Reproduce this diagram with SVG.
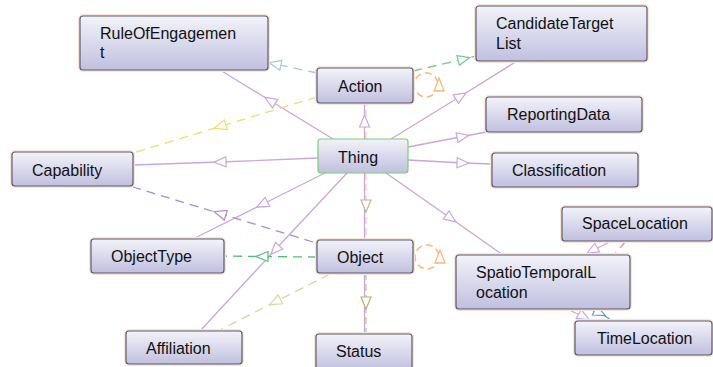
<svg xmlns="http://www.w3.org/2000/svg" width="713" height="367" viewBox="0 0 713 367">
<style>
.box{fill:url(#g);stroke:#5a5c6c;stroke-width:1.2}
.halo{fill:none;stroke:#fbe4d8;stroke-width:4}
.lbl{font-family:"Liberation Sans",Arial,sans-serif;font-size:16px;fill:#111}
.sub{fill:none;stroke:#c9a6e0;stroke-width:1.3;marker-mid:url(#mp)}
.d{fill:none;stroke-width:1.3;stroke-dasharray:9 6}
</style>
<defs>
<linearGradient id="g" x1="0" y1="0" x2="0" y2="1">
<stop offset="0" stop-color="#f3f3fa"/>
<stop offset="1" stop-color="#c0c0e0"/>
</linearGradient>
<marker id="mp" viewBox="0 0 14 12" refX="7" refY="6" markerWidth="14" markerHeight="12" markerUnits="userSpaceOnUse" orient="auto"><path d="M1,1 L13,6 L1,11 Z" fill="#fff" stroke="#c9a6e0" stroke-width="1.2"/></marker>
<marker id="mb" viewBox="0 0 14 12" refX="7" refY="6" markerWidth="14" markerHeight="12" markerUnits="userSpaceOnUse" orient="auto"><path d="M1,1 L13,6 L1,11 Z" fill="#fff" stroke="#a8c6d6" stroke-width="1.2"/></marker>
<marker id="my" viewBox="0 0 14 12" refX="7" refY="6" markerWidth="14" markerHeight="12" markerUnits="userSpaceOnUse" orient="auto"><path d="M1,1 L13,6 L1,11 Z" fill="#fff" stroke="#f3dc6a" stroke-width="1.2"/></marker>
<marker id="mg" viewBox="0 0 14 12" refX="7" refY="6" markerWidth="14" markerHeight="12" markerUnits="userSpaceOnUse" orient="auto"><path d="M1,1 L13,6 L1,11 Z" fill="#fff" stroke="#72cc88" stroke-width="1.2"/></marker>
<marker id="mg2" viewBox="0 0 14 12" refX="7" refY="6" markerWidth="14" markerHeight="12" markerUnits="userSpaceOnUse" orient="auto"><path d="M1,1 L13,6 L1,11 Z" fill="#fff" stroke="#4fbf7a" stroke-width="1.2"/></marker>
<marker id="mdp" viewBox="0 0 14 12" refX="7" refY="6" markerWidth="14" markerHeight="12" markerUnits="userSpaceOnUse" orient="auto"><path d="M1,1 L13,6 L1,11 Z" fill="#fff" stroke="#a88ae0" stroke-width="1.2"/></marker>
<marker id="mk" viewBox="0 0 14 12" refX="7" refY="6" markerWidth="14" markerHeight="12" markerUnits="userSpaceOnUse" orient="auto"><path d="M1,1 L13,6 L1,11 Z" fill="#fff" stroke="#d8d89c" stroke-width="1.2"/></marker>
<marker id="mo" viewBox="0 0 14 12" refX="7" refY="6" markerWidth="14" markerHeight="12" markerUnits="userSpaceOnUse" orient="auto"><path d="M1,1 L13,6 L1,11 Z" fill="#fff" stroke="#b9b26e" stroke-width="1.2"/></marker>
<marker id="mo2" viewBox="0 0 14 12" refX="7" refY="6" markerWidth="14" markerHeight="12" markerUnits="userSpaceOnUse" orient="auto"><path d="M1,1 L13,6 L1,11 Z" fill="#fff" stroke="#c2b88e" stroke-width="1.2"/></marker>
<marker id="mbl" viewBox="0 0 14 12" refX="7" refY="6" markerWidth="14" markerHeight="12" markerUnits="userSpaceOnUse" orient="auto"><path d="M1,1 L13,6 L1,11 Z" fill="#fff" stroke="#6a94e0" stroke-width="1.2"/></marker>
</defs>
<rect width="713" height="367" fill="#fff"/>
<g id="connectors">
<path class="sub" d="M333,139 L270,100.5 L220,70"/>
<path class="d" stroke="#a8c6d6" marker-mid="url(#mb)" d="M317,73 L275,64 L268,62.5"/>
<path class="d" stroke="#f3dc6a" marker-mid="url(#my)" d="M317,97 L220,126.5 L133,153"/>
<path class="sub" d="M318,158 L220,162 L133,165"/>
<path d="M366,139 L366,103" fill="none" stroke="#f5c09a" stroke-width="1" stroke-dasharray="7 4"/>
<path class="sub" d="M364.5,139 L364.5,121 L364.5,103"/>
<path class="d" stroke="#72cc88" marker-mid="url(#mg)" d="M413,71 L464,59 L476,56"/>
<path class="sub" d="M391,139 L461,96 L517,61"/>
<path class="sub" d="M408,147 L463,136.5 L486,132"/>
<path class="sub" d="M408,160 L463,163 L492,164"/>
<path class="sub" d="M386,173 L451,218.5 L503,255"/>
<path d="M364.5,173 L364.5,240" fill="none" stroke="#c9a6e0" stroke-width="1.3"/>
<path d="M366,173 L366,206 L366,240" fill="none" stroke="#f5c09a" stroke-width="1" stroke-dasharray="7 4" marker-mid="url(#mo2)"/>
<path class="sub" d="M325,173 L262,204.5 L193,239"/>
<path class="sub" d="M347,173 L275,250 L200,331"/>
<path class="d" stroke="#a88ae0" marker-mid="url(#mdp)" d="M313,242 L220,213.5 L133,187"/>
<path class="d" stroke="#4fbf7a" marker-mid="url(#mg2)" d="M317,257 L262,256.5 L224,256"/>
<path class="d" stroke="#d8d89c" marker-mid="url(#mk)" d="M330,274 L275,302 L218,331"/>
<path d="M364.5,273 L364.5,334" fill="none" stroke="#c9a6e0" stroke-width="1.3"/>
<path d="M366,273 L366,303 L366,334" fill="none" stroke="#c8c07a" stroke-width="1.2" stroke-dasharray="7 4" marker-mid="url(#mo)"/>
<circle cx="426" cy="85" r="12" fill="none" stroke="#f8b878" stroke-width="1.5" stroke-dasharray="7 4"/>
<path d="M439,78 L444,91 L434,91 Z" fill="#fff" stroke="#f8b878" stroke-width="1.3"/>
<circle cx="427" cy="257" r="12" fill="none" stroke="#f8b878" stroke-width="1.5" stroke-dasharray="7 4"/>
<path d="M440,250 L445,263 L435,263 Z" fill="#fff" stroke="#f8b878" stroke-width="1.3"/>
<path class="sub" d="M612,241 L592,250.5 L585,255"/>
<path class="d" stroke="#f08898" stroke-dasharray="5 3" d="M626,241 L614,255"/>
<path class="sub" d="M567,309 L584,317 L590,321"/>
<path class="d" stroke="#6a94e0" stroke-dasharray="5 3" marker-mid="url(#mbl)" d="M588,309 L600,313 L613,321"/>
</g>
<g id="RuleOfEngagement"><rect class="halo" x="80" y="16" width="188" height="54" rx="3"/><rect class="box" x="80" y="16" width="188" height="54" rx="3"/><text class="lbl" x="100" y="39">RuleOfEngagemen</text><text class="lbl" x="100" y="58">t</text></g>
<g id="CandidateTargetList"><rect class="halo" x="476" y="6" width="171" height="55" rx="3"/><rect class="box" x="476" y="6" width="171" height="55" rx="3"/><text class="lbl" x="496" y="29">CandidateTarget</text><text class="lbl" x="496" y="49">List</text></g>
<g id="Action"><rect class="halo" x="317" y="68" width="96" height="35" rx="3"/><rect class="box" x="317" y="68" width="96" height="35" rx="3"/><text class="lbl" x="338" y="92">Action</text></g>
<g id="ReportingData"><rect class="halo" x="486" y="97" width="156" height="35" rx="3"/><rect class="box" x="486" y="97" width="156" height="35" rx="3"/><text class="lbl" x="507" y="120">ReportingData</text></g>
<g id="Thing"><rect class="box" x="318" y="139" width="90" height="34" rx="3" style="stroke:#7ccf6e"/><text class="lbl" x="338" y="163">Thing</text></g>
<g id="Capability"><rect class="halo" x="12" y="152" width="121" height="34" rx="3"/><rect class="box" x="12" y="152" width="121" height="34" rx="3"/><text class="lbl" x="32" y="176">Capability</text></g>
<g id="Classification"><rect class="halo" x="492" y="153" width="146" height="34" rx="3"/><rect class="box" x="492" y="153" width="146" height="34" rx="3"/><text class="lbl" x="512" y="176">Classification</text></g>
<g id="SpaceLocation"><rect class="halo" x="562" y="207" width="150" height="34" rx="3"/><rect class="box" x="562" y="207" width="150" height="34" rx="3"/><text class="lbl" x="582" y="229">SpaceLocation</text></g>
<g id="ObjectType"><rect class="halo" x="91" y="239" width="133" height="34" rx="3"/><rect class="box" x="91" y="239" width="133" height="34" rx="3"/><text class="lbl" x="111" y="262">ObjectType</text></g>
<g id="Object"><rect class="halo" x="317" y="240" width="96" height="33" rx="3"/><rect class="box" x="317" y="240" width="96" height="33" rx="3"/><text class="lbl" x="337" y="263">Object</text></g>
<g id="SpatioTemporalLocation"><rect class="halo" x="456" y="255" width="174" height="54" rx="3"/><rect class="box" x="456" y="255" width="174" height="54" rx="3"/><text class="lbl" x="476" y="278">SpatioTemporalL</text><text class="lbl" x="476" y="298">ocation</text></g>
<g id="TimeLocation"><rect class="halo" x="575" y="321" width="137" height="34" rx="3"/><rect class="box" x="575" y="321" width="137" height="34" rx="3"/><text class="lbl" x="597" y="344">TimeLocation</text></g>
<g id="Affiliation"><rect class="halo" x="126" y="331" width="116" height="33" rx="3"/><rect class="box" x="126" y="331" width="116" height="33" rx="3"/><text class="lbl" x="146" y="354">Affiliation</text></g>
<g id="Status"><rect class="halo" x="316" y="334" width="96" height="36" rx="3"/><rect class="box" x="316" y="334" width="96" height="36" rx="3"/><text class="lbl" x="336" y="357">Status</text></g>
</svg>
